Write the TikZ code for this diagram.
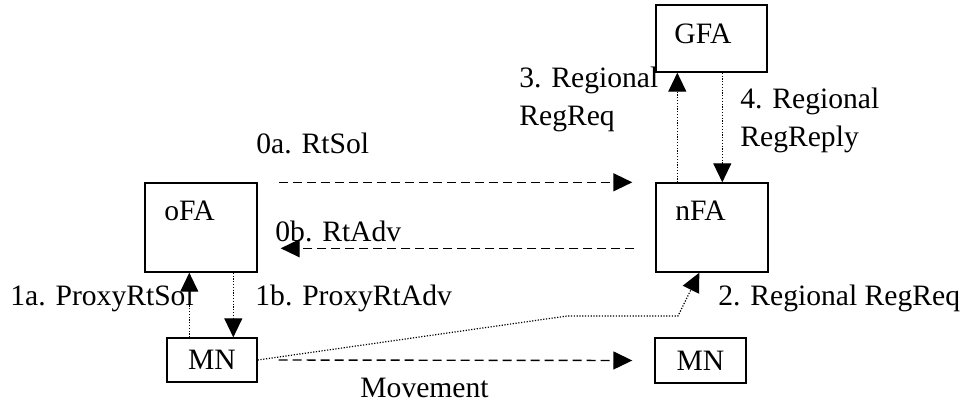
\documentclass[tikz,border=0pt]{standalone}
\usepackage{fontspec}
\setmainfont{Liberation Serif}
\usetikzlibrary{arrows.meta,calc}

\begin{document}
\begin{tikzpicture}[x=0.5pt,y=-0.5pt,
    every node/.style={font=\fontsize{14.8}{19}\selectfont},
    box/.style={draw,line width=0.7pt,inner sep=0pt},
    lbl/.style={anchor=base west,inner sep=0pt,align=left},
    msg/.style={line width=0.7pt,dash pattern=on 4.5pt off 2.5pt,-{Triangle[length=9.5pt,width=9pt]}},
    reg/.style={line width=0.6pt,dash pattern=on 0.6pt off 0.8pt,-{Triangle[length=9.5pt,width=9pt]}}]
    \useasboundingbox (0,0) rectangle (960,403);
    % agents
    \node[box,minimum width=56pt,minimum height=44.5pt] (oFA) at (201,227.5) {};
    \node[lbl] (oFAtext) at (164,220) {oFA};
    \node[box,minimum width=56pt,minimum height=44.5pt] (nFA) at (712,227.5) {};
    \node[lbl] (nFAtext) at (675,220) {nFA};
    \node[box,minimum width=55.5pt,minimum height=33.5pt] (GFA) at (711.5,38.5) {};
    \node[lbl] (GFAtext) at (674,43) {GFA};
    % mobile node, before and after
    \node[box,minimum width=45pt,minimum height=22pt] (MNa) at (212,360) {MN};
    \node[box,minimum width=45.5pt,minimum height=22.5pt] (MNb) at (700.5,360.5) {MN};
    % router solicitation / advertisement
    \draw[msg] ($(oFA.north east)+(21,0)$) -- ($(nFA.north west)+(-23,0)$);
    \node[lbl] (rtsol) at (256,153) {0a. RtSol};
    \draw[msg] ($(nFA.north west)+(-21,66)$) -- ($(oFA.north east)+(23,66)$);
    \node[lbl] (rtadv) at (275,241) {0b. RtAdv};
    % proxy messages
    \draw[reg] ($(MNa.north west)+(23,0)$) -- ($(oFA.south west)+(45,0)$);
    \node[lbl] (proxysol) at (10,305) {1a. ProxyRtSol};
    \draw[reg] ($(oFA.south west)+(89,0)$) -- ($(MNa.north west)+(67,0)$);
    \node[lbl] (proxyadv) at (255,305) {1b. ProxyRtAdv};
    % regional registration
    \draw[reg] (MNa.east) -- (567,316) -- (678,316) -- ($(nFA.south west)+(44,0)$);
    \node[lbl] (regreq) at (718,305) {2. Regional RegReq};
    \draw[reg] ($(nFA.north west)+(22,0)$) -- ($(GFA.south west)+(22,0)$);
    \node[lbl] (gfareq) at (519,125) {3. Regional\\RegReq};
    \draw[reg] ($(GFA.south west)+(67,0)$) -- ($(nFA.north west)+(67,0)$);
    \node[lbl] (gfareply) at (740,146) {4. Regional\\RegReply};
    % movement
    \draw[msg] ($(MNa.east)+(21,0)$) -- ($(MNb.west)+(-22,0)$);
    \node[lbl] (move) at (360,397) {Movement};
\end{tikzpicture}
\end{document}
